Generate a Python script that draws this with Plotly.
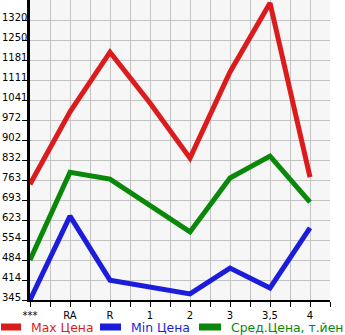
import plotly.graph_objects as go

categories = ["***", "RA", "R", "1", "2", "3", "3,5", "4"]
max_price = [748, 1000, 1208, 1031, 839, 1139, 1379, 773]
min_price = [345, 637, 414, 390, 366, 456, 387, 596]
avg_price = [484, 790, 766, 676, 582, 770, 846, 686]
y_tick_labels = ["345", "414", "484", "554", "623", "693", "763", "832",
                 "902", "972", "1041", "1111", "1181", "1250", "1320"]
legend_names = ["Max Цена", "Min Цена", "Сред.Цена, т.йен"]

RED, BLUE, GREEN = "#dc1c1c", "#1c1cdc", "#0a880a"
colors = [RED, BLUE, GREEN]

W, H = 345, 335
L, R, T, B = 30, 15, 0, 35
PW, PH = W - L - R, H - T - B

y0 = 345.0
step = (1320.0 - 345.0) / 14
y_tick_vals = [y0 + i * step for i in range(len(y_tick_labels))]
y_top = y0 + 15 * step

xs = list(range(len(categories)))
x_tickvals = [i * 0.5 for i in range(2 * len(categories))]
x_ticktext = [categories[int(v)] if v == int(v) else "" for v in x_tickvals]

fig = go.Figure()
for name, vals, c in zip(legend_names, [max_price, min_price, avg_price], colors):
    fig.add_trace(go.Scatter(x=xs, y=vals, mode="lines", name=name,
                             line=dict(color=c, width=5), showlegend=False))

def px_x(p):
    return (p - L) / PW

def px_y(p):
    return (H - B - p) / PH

shapes = []
annotations = []
leg_pos = [(1, 21, 29), (100, 121, 129), (199, 221, 229)]
for (x1, x2, tx), name, c in zip(leg_pos, legend_names, colors):
    shapes.append(dict(type="line", xref="paper", yref="paper",
                       x0=px_x(x1), x1=px_x(x2), y0=px_y(327), y1=px_y(327),
                       line=dict(color=c, width=7)))
    annotations.append(dict(text=name, xref="paper", yref="paper",
                            x=px_x(tx), y=px_y(327), xanchor="left", yanchor="middle",
                            showarrow=False, font=dict(color=c, size=12.4,
                                                       family="DejaVu Sans")))

for v, t in zip(y_tick_vals, y_tick_labels):
    annotations.append(dict(text=t, xref="paper", yref="y", x=px_x(0), y=v,
                            xanchor="left", yanchor="middle", yshift=3,
                            showarrow=False,
                            font=dict(color="black", size=10, family="DejaVu Sans")))

fig.update_layout(
    width=W, height=H,
    margin=dict(l=L, r=R, t=T, b=B, pad=0),
    paper_bgcolor="white",
    plot_bgcolor="#f6f6f6",
    shapes=shapes,
    annotations=annotations,
    font=dict(family="DejaVu Sans", size=10, color="black"),
)
fig.update_xaxes(range=[0, 7.5], tickmode="array", tickvals=x_tickvals,
                 ticktext=x_ticktext, showgrid=True, gridcolor="#c4c4c4",
                 gridwidth=1, showline=True, linecolor="black", linewidth=2,
                 ticks="outside", ticklen=5, tickcolor="black",
                 tickfont=dict(size=10, color="black"), zeroline=False)
fig.update_yaxes(range=[y0, y_top], tickmode="array", tickvals=y_tick_vals,
                 showticklabels=False, showgrid=True, gridcolor="#c4c4c4",
                 gridwidth=1, showline=True, linecolor="black", linewidth=3,
                 ticks="outside", ticklen=5, tickcolor="black", zeroline=False)

fig.write_html("out.html")
